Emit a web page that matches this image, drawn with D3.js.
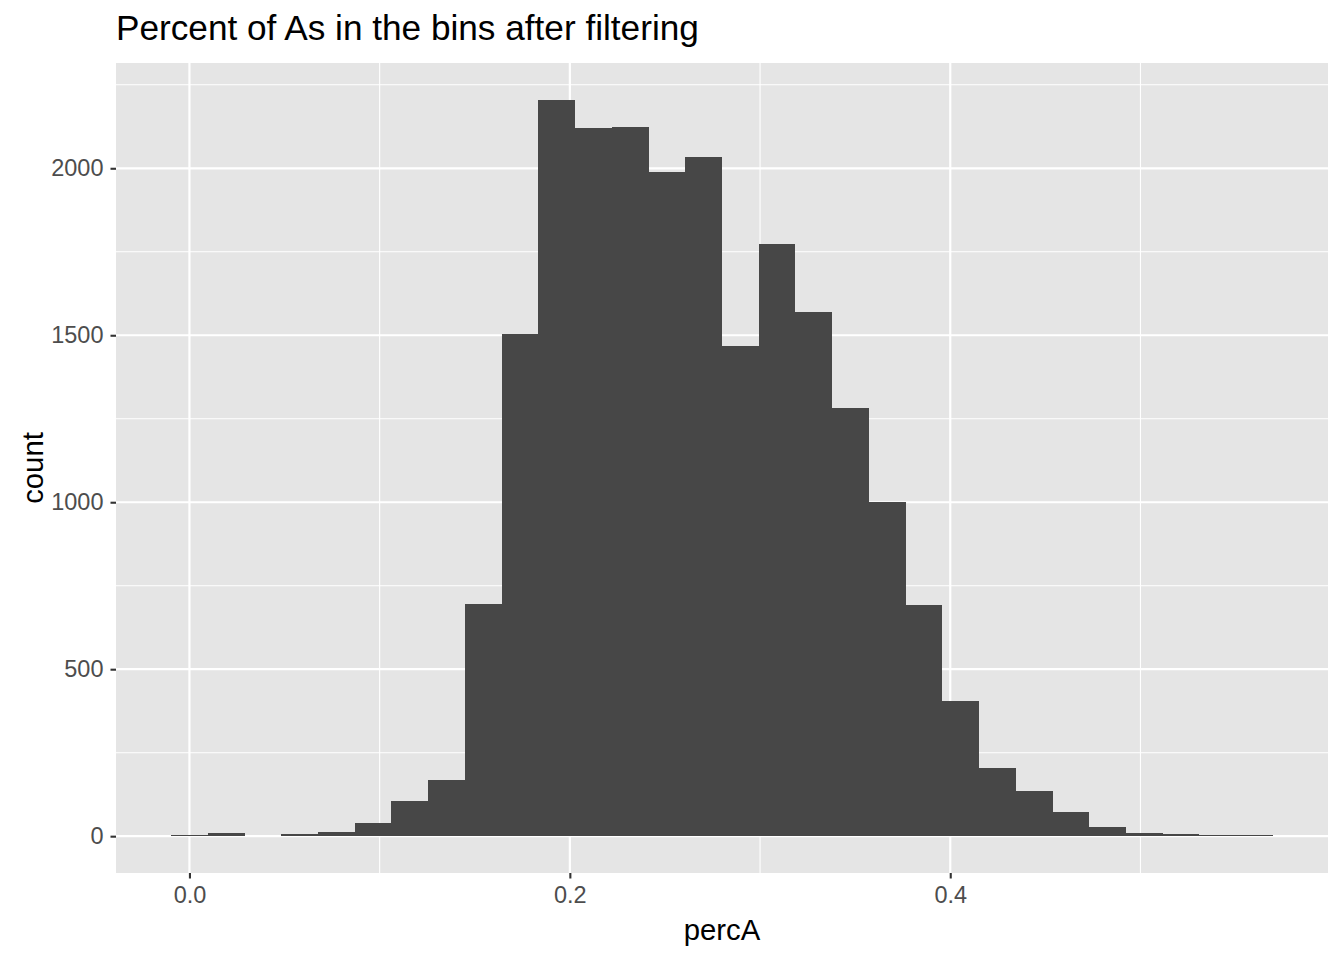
<!DOCTYPE html>
<html>
<head>
<meta charset="utf-8">
<script src="https://cdn.jsdelivr.net/npm/d3@7"></script>
<style>
  html, body { margin: 0; padding: 0; background: #ffffff; }
  svg { display: block; }
  text { font-family: "Liberation Sans", Arial, Helvetica, sans-serif; }
</style>
</head>
<body>
<svg id="chart" width="1344" height="960"></svg>
<script>
// ---- data ----
const title = "Percent of As in the bins after filtering";
const xLabel = "percA";
const yLabel = "count";
const binWidth = 0.01931;          // 30 bins over [0, 0.56]
const binCenters = d3.range(30).map(i => +(i * binWidth).toFixed(5));
const counts = [5, 9, 2, 6, 14, 40, 106, 169, 695, 1505,
                2205, 2121, 2124, 1988, 2033, 1469, 1772, 1571, 1283, 1000,
                692, 406, 205, 136, 71, 28, 10, 6, 3, 3];
const xTicks = [0.0, 0.2, 0.4];
const xMinor = [0.1, 0.3, 0.5];
const yTicks = [0, 500, 1000, 1500, 2000];
const yMinor = [250, 750, 1250, 1750, 2250];

// ---- layout ----
const svg = d3.select("#chart");
const panel = { left: 116, right: 1328, top: 63, bottom: 873 };

const bins = binCenters.map((c, i) => ({ x0: c - binWidth / 2, x1: c + binWidth / 2, n: counts[i] }));
const xlo = bins[0].x0, xhi = bins[bins.length - 1].x1;
const xr = xhi - xlo;
const x = d3.scaleLinear().domain([xlo - 0.05 * xr, xhi + 0.05 * xr]).range([panel.left, panel.right]);
const ymax = d3.max(counts);
const y = d3.scaleLinear().domain([-0.05 * ymax, ymax * 1.05]).range([panel.bottom, panel.top]);

// background
svg.append("rect")
  .attr("x", panel.left).attr("y", panel.top)
  .attr("width", panel.right - panel.left).attr("height", panel.bottom - panel.top)
  .attr("fill", "#E5E5E5");

const grid = svg.append("g");
// minor grid
grid.selectAll(".xminor").data(xMinor).join("line")
  .attr("x1", d => x(d)).attr("x2", d => x(d))
  .attr("y1", panel.top).attr("y2", panel.bottom)
  .attr("stroke", "#ffffff").attr("stroke-width", 1.1);
grid.selectAll(".yminor").data(yMinor).join("line")
  .attr("x1", panel.left).attr("x2", panel.right)
  .attr("y1", d => y(d)).attr("y2", d => y(d))
  .attr("stroke", "#ffffff").attr("stroke-width", 1.1);
// major grid
grid.selectAll(".xmajor").data(xTicks).join("line")
  .attr("x1", d => x(d)).attr("x2", d => x(d))
  .attr("y1", panel.top).attr("y2", panel.bottom)
  .attr("stroke", "#ffffff").attr("stroke-width", 2.2);
grid.selectAll(".ymajor").data(yTicks).join("line")
  .attr("x1", panel.left).attr("x2", panel.right)
  .attr("y1", d => y(d)).attr("y2", d => y(d))
  .attr("stroke", "#ffffff").attr("stroke-width", 2.2);

// bars
svg.append("g").selectAll("rect").data(bins).join("rect")
  .attr("x", d => x(d.x0))
  .attr("width", d => x(d.x1) - x(d.x0))
  .attr("y", d => y(d.n))
  .attr("height", d => y(0) - y(d.n))
  .attr("fill", "#474747")
  .attr("shape-rendering", "crispEdges");

// axes
const xAxis = d3.axisBottom(x).tickValues(xTicks).tickFormat(d3.format(".1f")).tickSize(5.5).tickPadding(8);
const gx = svg.append("g").attr("transform", `translate(0,${panel.bottom})`).call(xAxis);
gx.select(".domain").remove();
gx.selectAll(".tick line").attr("stroke", "#333333").attr("stroke-width", 2.1);
gx.selectAll(".tick text").attr("fill", "#4D4D4D").attr("font-size", 23.5)
  .attr("font-family", "Liberation Sans, Arial, sans-serif");

const yAxis = d3.axisLeft(y).tickValues(yTicks).tickFormat(d3.format("d")).tickSize(5.5).tickPadding(7);
const gy = svg.append("g").attr("transform", `translate(${panel.left},0)`).call(yAxis);
gy.select(".domain").remove();
gy.selectAll(".tick line").attr("stroke", "#333333").attr("stroke-width", 2.1);
gy.selectAll(".tick text").attr("fill", "#4D4D4D").attr("font-size", 23.5)
  .attr("font-family", "Liberation Sans, Arial, sans-serif");

// titles
svg.append("text")
  .attr("x", panel.left).attr("y", 40)
  .attr("font-size", 35.2).attr("fill", "#000000")
  .text(title);

svg.append("text")
  .attr("x", (panel.left + panel.right) / 2).attr("y", 940)
  .attr("text-anchor", "middle")
  .attr("font-size", 29.3).attr("fill", "#000000")
  .text(xLabel);

svg.append("text")
  .attr("transform", `translate(43,${(panel.top + panel.bottom) / 2}) rotate(-90)`)
  .attr("text-anchor", "middle")
  .attr("font-size", 29.3).attr("fill", "#000000")
  .text(yLabel);
</script>
</body>
</html>
